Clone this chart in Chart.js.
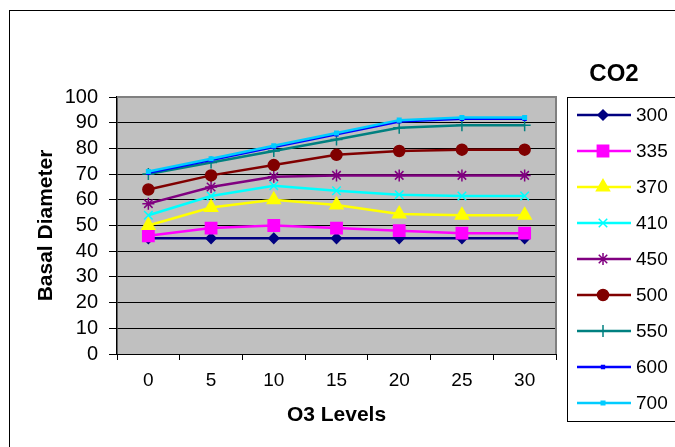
<!DOCTYPE html>
<html>
<head>
<meta charset="utf-8">
<script src="https://cdn.jsdelivr.net/npm/chart.js@4/dist/chart.umd.min.js"></script>
<style>
  html, body { margin: 0; padding: 0; background: #fff; overflow: hidden; }
  #wrap { position: relative; width: 675px; height: 447px; }
  #frame { position: absolute; left: 9px; top: 10px; width: 700px; height: 500px; border: 1px solid #000; }
  #chart { position: absolute; left: 0; top: 0; }
</style>
</head>
<body>
<div id="wrap">
  <div id="frame"></div>
  <canvas id="chart" width="675" height="447"></canvas>
</div>
<script>
// O3 levels on the x axis, one line per CO2 level
const o3Levels = ["0", "5", "10", "15", "20", "25", "30"];
const co2Labels = ["300", "335", "370", "410", "450", "500", "550", "600", "700"];

const co2_300 = [45, 45, 45, 45, 45, 45, 45];
const co2_335 = [46, 49, 50, 49, 48, 47, 47];
const co2_370 = [50, 57, 60, 58, 54.5, 54, 54];
const co2_410 = [54, 61.5, 65.5, 63.5, 62, 61.5, 61.5];
const co2_450 = [58.5, 65, 69, 69.5, 69.5, 69.5, 69.5];
const co2_500 = [64, 69.5, 73.5, 77.5, 79, 79.5, 79.5];
const co2_550 = [70, 74.5, 79, 83.5, 88, 89, 89];
const co2_600 = [70.5, 75.5, 80.5, 85.5, 90.5, 91.5, 91.5];
const co2_700 = [71, 76, 81, 86, 91, 92, 92];

const seriesValues = [co2_300, co2_335, co2_370, co2_410, co2_450, co2_500, co2_550, co2_600, co2_700];
const seriesColors = ["#000080", "#FF00FF", "#FFFF00", "#00FFFF", "#800080", "#800000", "#008080", "#0000FF", "#00CCFF"];
const seriesMarkers = ["rectRot", "rect", "triangle", "crossRot", "star", "circle", "cross", "rect", "rect"];
const markerSizes = [5, 8, 7.5, 6, 6, 5.5, 6, 2, 2.5];

const FONT = "'Liberation Sans', Arial, sans-serif";

let datasets = [];
for (let i = 0; i < co2Labels.length; i++) {
    let c = seriesColors[i];
    datasets.push({
        label: co2Labels[i],
        data: seriesValues[i],
        order: co2Labels.length - i, // later series drawn on top
        borderColor: c,
        backgroundColor: c,
        borderWidth: 2.5,
        pointStyle: seriesMarkers[i],
        pointRadius: markerSizes[i],
        pointBackgroundColor: c,
        pointBorderColor: c,
        pointBorderWidth: 1.5,
        tension: 0
    });
}

// grey plot background and frame, like the old Excel look
const plotArea = {
    id: "plotArea",
    beforeDraw(chart) {
        let a = chart.chartArea, ctx = chart.ctx;
        ctx.save();
        ctx.fillStyle = "#C0C0C0";
        ctx.fillRect(a.left, a.top, a.right - a.left, a.bottom - a.top);
        ctx.restore();
    },
    beforeDatasetsDraw(chart) {
        let a = chart.chartArea, ctx = chart.ctx;
        ctx.save();
        ctx.strokeStyle = "#808080";
        ctx.lineWidth = 2;
        ctx.beginPath();
        ctx.moveTo(a.left, a.top);
        ctx.lineTo(a.right, a.top);
        ctx.lineTo(a.right, a.bottom);
        ctx.stroke();
        ctx.restore();
    }
};

// boxed legend with the title above it
const boxLegend = {
    id: "boxLegend",
    afterDraw(chart) {
        let ctx = chart.ctx;
        ctx.save();
        ctx.fillStyle = "#000";
        ctx.font = "bold 24px " + FONT;
        ctx.textAlign = "center";
        ctx.textBaseline = "middle";
        ctx.fillText("CO2", 614, 74);

        ctx.strokeStyle = "#000";
        ctx.lineWidth = 1;
        ctx.strokeRect(567.5, 97.5, 130, 324);

        ctx.font = "19px " + FONT;
        ctx.textAlign = "left";
        chart.data.datasets.forEach(function (ds, i) {
            let y = 115 + i * 36;
            ctx.strokeStyle = ds.borderColor;
            ctx.lineWidth = ds.borderWidth;
            ctx.beginPath();
            ctx.moveTo(577, y);
            ctx.lineTo(631, y);
            ctx.stroke();
            ctx.fillStyle = ds.pointBackgroundColor;
            ctx.strokeStyle = ds.pointBorderColor;
            ctx.lineWidth = ds.pointBorderWidth;
            Chart.helpers.drawPoint(ctx, {
                pointStyle: ds.pointStyle,
                radius: ds.pointRadius,
                rotation: 0,
                borderWidth: ds.pointBorderWidth
            }, 603, y);
            ctx.fillStyle = "#000";
            ctx.fillText(ds.label, 636, y + 1);
        });
        ctx.restore();
    }
};

new Chart(document.getElementById("chart"), {
    type: "line",
    data: {
        labels: o3Levels,
        datasets: datasets
    },
    options: {
        responsive: false,
        animation: false,
        devicePixelRatio: 1,
        layout: { padding: { top: 97, right: 119, left: 0, bottom: 0 } },
        plugins: {
            legend: { display: false },
            tooltip: { enabled: false }
        },
        scales: {
            x: {
                offset: true,
                grid: {
                    offset: true,
                    drawOnChartArea: false,
                    drawTicks: true,
                    tickLength: 6,
                    color: "#000"
                },
                border: { display: true, color: "#000", width: 1 },
                ticks: {
                    color: "#000",
                    font: { family: FONT, size: 19 },
                    padding: 9,
                    maxRotation: 0,
                    autoSkip: false
                },
                title: {
                    display: true,
                    text: "O3 Levels",
                    color: "#000",
                    font: { family: FONT, size: 21, weight: "bold" },
                    padding: { top: 0, bottom: 19 }
                },
                afterFit(scale) { scale.height = 93; }
            },
            y: {
                min: 0,
                max: 100,
                ticks: {
                    stepSize: 10,
                    autoSkip: false,
                    color: "#000",
                    font: { family: FONT, size: 20 },
                    padding: 11
                },
                grid: {
                    color: "#000",
                    lineWidth: 1,
                    tickLength: 8
                },
                border: { display: true, color: "#000", width: 1.5 },
                title: {
                    display: true,
                    text: "Basal Diameter",
                    color: "#000",
                    font: { family: FONT, size: 21, weight: "bold" },
                    padding: { top: 34, bottom: 0 }
                },
                afterFit(scale) { scale.width = 117; }
            }
        }
    },
    plugins: [plotArea, boxLegend]
});
</script>
</body>
</html>
